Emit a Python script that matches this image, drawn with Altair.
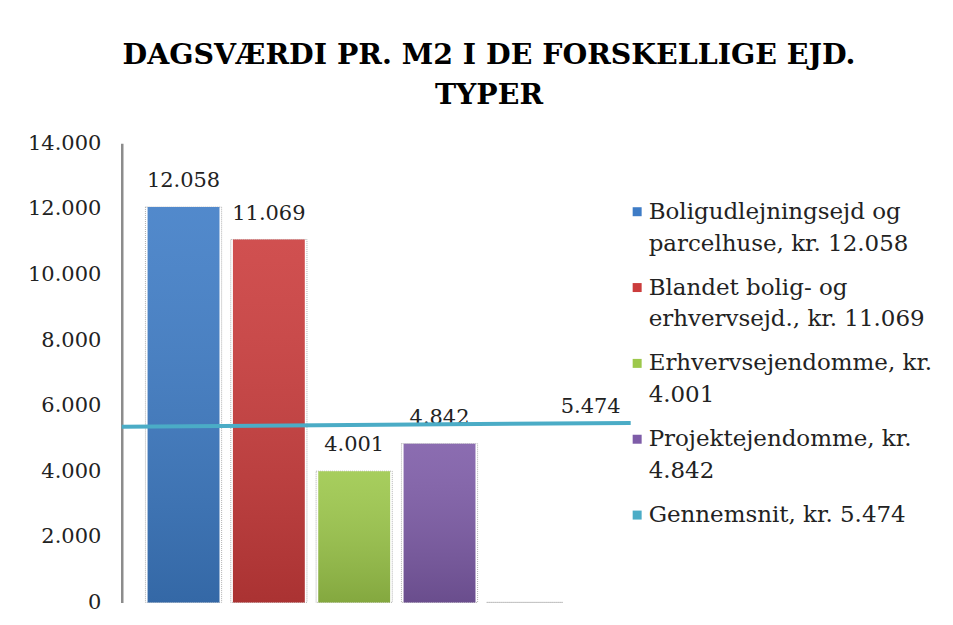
import altair as alt
import pandas as pd

# ---- data ----
categories = [
    "Boligudlejningsejd og|parcelhuse, kr. 12.058",
    "Blandet bolig- og|erhvervsejd., kr. 11.069",
    "Erhvervsejendomme, kr.|4.001",
    "Projektejendomme, kr.|4.842",
    "Gennemsnit, kr. 5.474",
]
values = [12058, 11069, 4001, 4842, 0]
colors = ["#3E7CC6", "#CB3C3C", "#9DC84B", "#7E5CA8", "#4BACC6"]
avg_start = 5356
avg_end = 5474
y_ticks = [0, 2000, 4000, 6000, 8000, 10000, 12000, 14000]
title_lines = ["DAGSVÆRDI PR. M2 I DE FORSKELLIGE EJD.", "TYPER"]

FONT = "DejaVu Serif"
fmt_expr = "replace(format(datum.value, ','), ',', '.')"

df = pd.DataFrame({"kategori": categories, "vaerdi": values})
avg_df = pd.DataFrame({"start": [avg_start], "slut": [avg_end]})

x = alt.X(
    "kategori:N",
    sort=categories,
    axis=None,
    scale=alt.Scale(paddingInner=0.158, paddingOuter=0.561, align=0.27),
)
y_scale = alt.Scale(domain=[0, 14000])
y_axis = alt.Axis(
    values=y_ticks,
    labelExpr=fmt_expr,
    title=None,
    grid=False,
    ticks=False,
    domainColor="#8c8c8c",
    domainWidth=2.5,
    labelFont=FONT,
    labelFontSize=21,
    labelColor="#222222",
    labelPadding=21,
)

base = alt.Chart(df)

outline = base.mark_bar(
    fillOpacity=0, stroke="#b0b0b0", strokeDash=[1, 1], strokeWidth=1,
    width=alt.RelativeBandSize(1.06),
).encode(x=x, y=alt.Y("vaerdi:Q", scale=y_scale, axis=y_axis))

bars = base.mark_bar().encode(
    x=x,
    y=alt.Y("vaerdi:Q", scale=y_scale, axis=y_axis),
    color=alt.Color(
        "kategori:N",
        sort=categories,
        scale=alt.Scale(domain=categories, range=colors),
        legend=alt.Legend(
            title=None,
            orient="none",
            legendX=505,
            legendY=57,
            symbolType="square",
            symbolSize=81,
            symbolStrokeWidth=0,
            labelFont=FONT,
            labelFontSize=23,
            labelColor="#222222",
            labelLimit=400,
            labelExpr="split(datum.label, '|')",
            rowPadding=20,
            labelOffset=0,
        ),
    ),
)

shade = base.mark_bar(
    fill=alt.Gradient(
        gradient="linear",
        stops=[
            alt.GradientStop(color="rgba(255,255,255,0.10)", offset=0),
            alt.GradientStop(color="rgba(0,0,0,0.16)", offset=1),
        ],
        x1=0, x2=0, y1=0, y2=1,
    )
).encode(x=x, y=alt.Y("vaerdi:Q", scale=y_scale, axis=y_axis))

labels = base.transform_filter("datum.vaerdi > 0").transform_calculate(
    lbl="replace(format(datum.vaerdi, ','), ',', '.')"
).mark_text(font=FONT, fontSize=21, color="#222222", baseline="middle", dy=-26).encode(
    x=x, y=alt.Y("vaerdi:Q", scale=y_scale, axis=y_axis), text="lbl:N"
)

avg_line = alt.Chart(avg_df).mark_rule(color="#4BACC6", strokeWidth=4).encode(
    x=alt.value(0),
    x2=alt.value("width"),
    y=alt.Y("start:Q", scale=y_scale, axis=y_axis),
    y2="slut:Q",
)

avg_label = alt.Chart(avg_df).transform_calculate(
    lbl="replace(format(datum.slut, ','), ',', '.')"
).mark_text(font=FONT, fontSize=21, color="#222222", align="right", baseline="middle", dx=-10, dy=-16).encode(
    x=alt.value("width"),
    y=alt.Y("slut:Q", scale=y_scale, axis=y_axis),
    text="lbl:N",
)

chart = alt.layer(
    outline, bars, shade, labels, avg_line, avg_label
).properties(
    width=510,
    height=460,
    autosize=alt.AutoSizeParams(type="none"),
    padding={"left": 114, "top": 135, "right": 315, "bottom": 14},
    title=alt.TitleParams(
        text=title_lines,
        font=FONT,
        fontSize=28.5,
        fontWeight="bold",
        color="#000000",
        anchor="middle",
        dx=113,
        offset=23,
        lineHeight=40,
    ),
).configure(
    style={"guide-label": {"lineHeight": 32}}
).configure_view(stroke=None)

chart.save("out.html", embed_options={"renderer": "svg", "actions": False})
